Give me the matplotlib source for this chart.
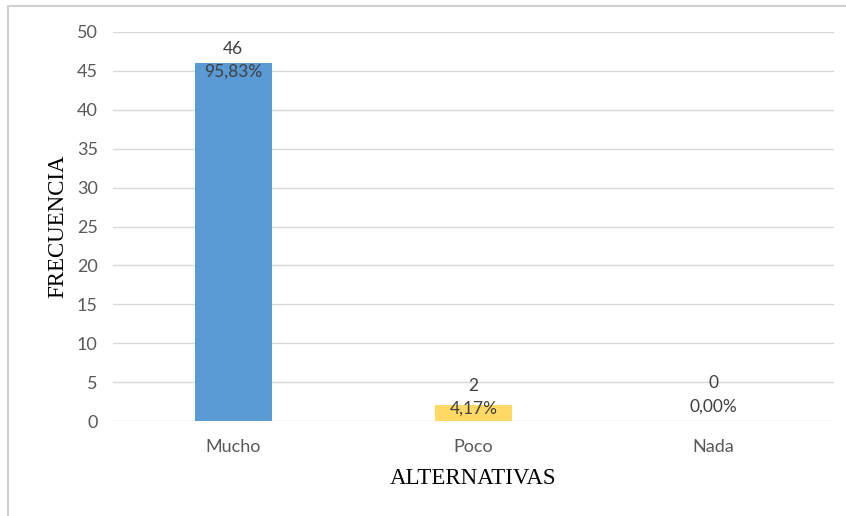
import matplotlib.pyplot as plt
from matplotlib.patches import Rectangle

# data
categorias = ['Mucho', 'Poco', 'Nada']
frecuencia = [46, 2, 0]
porcentaje = ['95,83%', '4,17%', '0,00%']
colores = ['#5B9BD5', '#FFD966', '#A5A5A5']

fig = plt.figure(figsize=(8.46, 5.16), dpi=100)
ax = fig.add_axes([0.1336, 0.184, 0.852, 0.754])

# chart frame (light grey border, partly outside the picture)
fig.patches.append(Rectangle((8 / 846, -0.1), 1.2, 1 - 6 / 516 + 0.1,
                             transform=fig.transFigure, fill=False,
                             edgecolor='#D0D0D0', linewidth=1.5))

x = range(len(categorias))
bars = ax.bar(x, frecuencia, width=0.32, color=colores, zorder=3)

ax.set_xlim(-0.5, 2.5)
ax.set_ylim(0, 50)
ax.set_yticks(range(0, 51, 5))
ax.set_xticks(list(x))
ax.set_xticklabels(categorias)
ax.grid(axis='y', color='#D9D9D9', linewidth=1, zorder=0)
for s in ax.spines.values():
    s.set_visible(False)
ax.tick_params(length=0, labelsize=13, labelcolor='#595959')
ax.tick_params(axis='y', pad=11)
ax.tick_params(axis='x', pad=13)
for lbl in ax.get_xticklabels() + ax.get_yticklabels():
    lbl.set_fontfamily('Lato')

ax.set_ylabel('FRECUENCIA', fontfamily='Liberation Serif', fontsize=16.5, labelpad=6)
ax.set_xlabel('ALTERNATIVAS', fontfamily='Liberation Serif', fontsize=16.5, labelpad=9)

# value + percentage labels
desplazamiento = [2, 6, 19]
for b, v, p, d in zip(bars, frecuencia, porcentaje, desplazamiento):
    ax.annotate(f'{v}\n{p}', (b.get_x() + b.get_width() / 2, v),
                xytext=(0, d), textcoords='offset points',
                ha='center', va='center', fontsize=12.5, color='#404040',
                fontfamily='Lato', linespacing=1.55, zorder=4)

fig.savefig('out.png', dpi=100)
